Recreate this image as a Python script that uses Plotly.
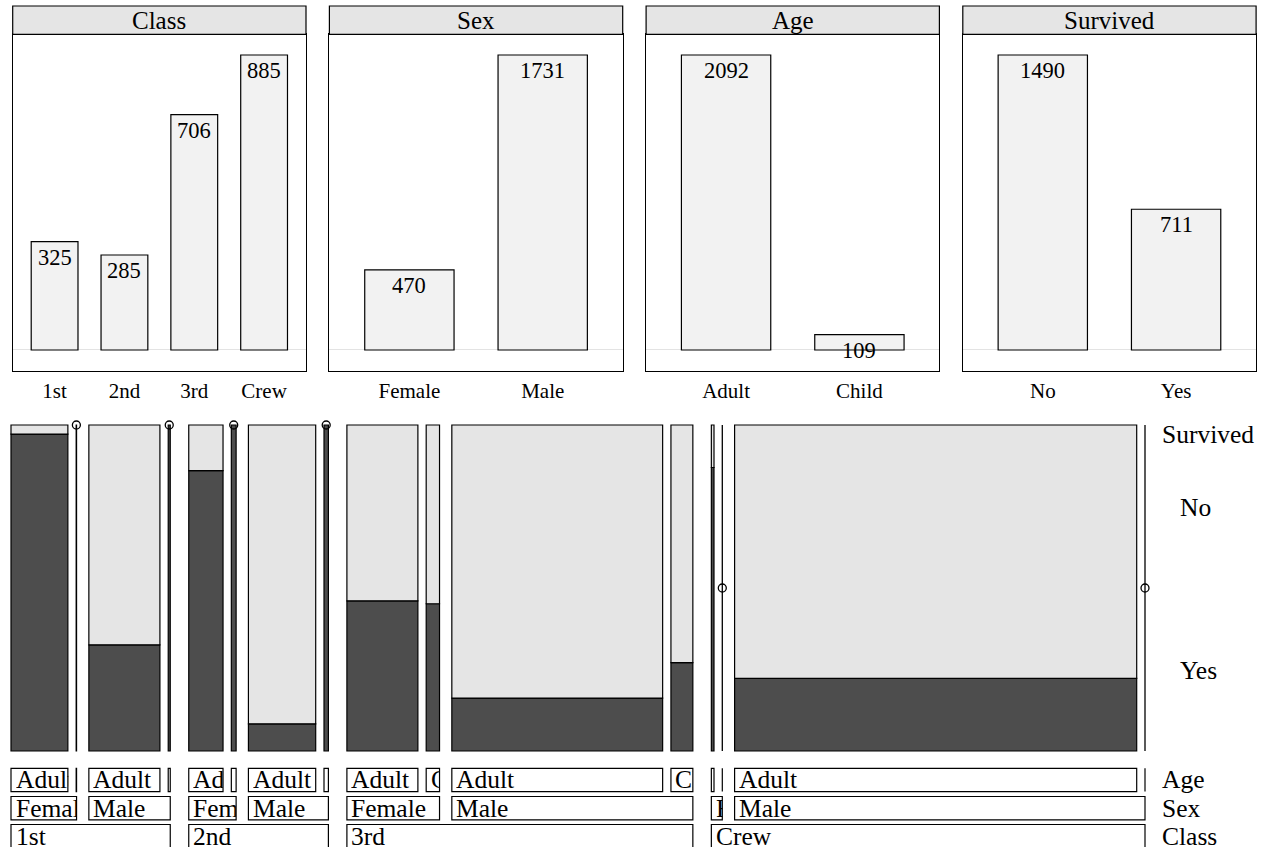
import plotly.graph_objects as go

W, H = 1270, 847

# ---------------- data ----------------
classes = ["1st", "2nd", "3rd", "Crew"]
sexes = ["Female", "Male"]
ages = ["Adult", "Child"]
survival = ["No", "Yes"]

class_totals = [325, 285, 706, 885]
sex_totals = [470, 1731]
age_totals = [2092, 109]
survived_totals = [1490, 711]

# counts per class, order: Female/Adult, Female/Child, Male/Adult, Male/Child
no_1st = [4, 0, 118, 0]
yes_1st = [140, 1, 57, 5]
no_2nd = [13, 0, 154, 0]
yes_2nd = [80, 13, 14, 11]
no_3rd = [89, 17, 387, 35]
yes_3rd = [76, 14, 75, 13]
no_crew = [3, 0, 670, 0]
yes_crew = [20, 0, 192, 0]

no_by_class = [no_1st, no_2nd, no_3rd, no_crew]
yes_by_class = [yes_1st, yes_2nd, yes_3rd, yes_crew]

# ---------------- style ----------------
TOP_FONT = "Liberation Serif"
BOT_FONT = "Liberation Serif"
DARK = "#4d4d4d"
LIGHT = "#e5e5e5"
BAR_FILL = "#f2f2f2"
LW = 1.2

fig = go.Figure()

def fx(px):
    return px / W

def fy(py):
    return 1 - py / H

# ---------------- top: marginal bar charts ----------------
P_X0, P_STEP, P_W = 12.7, 316.7, 293.3
P_TOP, P_BOT, HDR_TOP = 34.3, 370.7, 6.0
EXP = 0.0702

top_panels = [("Class", classes, class_totals),
              ("Sex", sexes, sex_totals),
              ("Age", ages, age_totals),
              ("Survived", survival, survived_totals)]

layout_axes = {}
for i, (title, cats, vals) in enumerate(top_panels):
    k = i + 1
    xr = "x" if k == 1 else f"x{k}"
    yr = "y" if k == 1 else f"y{k}"
    xs = list(range(len(cats)))
    fig.add_trace(go.Bar(x=xs, y=vals, width=0.67, xaxis=xr, yaxis=yr,
                         marker=dict(color=BAR_FILL, line=dict(color="black", width=LW)),
                         showlegend=False, hoverinfo="skip"))
    for xv, v in zip(xs, vals):
        fig.add_annotation(xref=xr, yref=yr, x=xv, y=v, yanchor="top", xanchor="center",
                           yshift=-1, text=str(v), showarrow=False,
                           font=dict(family=TOP_FONT, size=22.5, color="black"))
    x0 = P_X0 + P_STEP * i
    x1 = x0 + P_W
    vmax = max(vals)
    layout_axes[f"xaxis{'' if k == 1 else k}"] = dict(
        domain=[fx(x0), fx(x1)], anchor=yr, range=[-0.6, len(cats) - 0.4],
        tickvals=xs, ticktext=cats, showgrid=False, zeroline=False, ticks="",
        showline=True, mirror=True, linecolor="black", linewidth=LW,
        tickfont=dict(family=TOP_FONT, size=21, color="black"), ticklabelstandoff=1)
    layout_axes[f"yaxis{'' if k == 1 else k}"] = dict(
        domain=[fy(P_BOT), fy(P_TOP)], anchor=xr, range=[-EXP * vmax, (1 + EXP) * vmax],
        showticklabels=False, showgrid=False, ticks="", zeroline=True,
        zerolinecolor="#e3e3e3", zerolinewidth=1,
        showline=True, mirror=True, linecolor="black", linewidth=LW)
    fig.add_shape(type="rect", xref="paper", yref="paper",
                  x0=fx(x0), x1=fx(x1), y0=fy(P_TOP), y1=fy(HDR_TOP),
                  fillcolor=LIGHT, line=dict(color="black", width=LW))
    fig.add_annotation(xref="paper", yref="paper", x=fx((x0 + x1) / 2), y=fy((P_TOP + HDR_TOP) / 2),
                       text=title, showarrow=False, xanchor="center", yanchor="middle",
                       font=dict(family=TOP_FONT, size=25, color="black"))

# ---------------- bottom: double decker ----------------
MX0, MX1 = 11.0, 1145.0       # pixel extent of tiles
MY_TOP, MY_BOT = 425.0, 751.0
UNIT = MX1 - MX0
XPAD = 0.005
YPAD = 0.03
GAPS = [18.5 / UNIT, 12.3 / UNIT, 8.3 / UNIT]

def split(a, b, counts, gap):
    tot = sum(counts)
    avail = (b - a) - gap * (len(counts) - 1)
    out, x = [], a
    for n in counts:
        w = avail * n / tot if tot > 0 else 0.0
        out.append((x, x + w))
        x += w + gap
    return out

cells = []   # (ci, si, ai, x0, x1, no, yes)
class_spans, sex_spans = [], []
cls_counts = [sum(no_by_class[c]) + sum(yes_by_class[c]) for c in range(len(classes))]
for ci, (a, b) in enumerate(split(0.0, 1.0, cls_counts, GAPS[0])):
    class_spans.append((ci, a, b))
    nos, yess = no_by_class[ci], yes_by_class[ci]
    sx_counts = [sum(nos[s * 2 + j] + yess[s * 2 + j] for j in range(2)) for s in range(2)]
    for si, (sa, sb) in enumerate(split(a, b, sx_counts, GAPS[1])):
        sex_spans.append((ci, si, sa, sb))
        ag_counts = [nos[si * 2 + j] + yess[si * 2 + j] for j in range(2)]
        for ai, (aa, ab) in enumerate(split(sa, sb, ag_counts, GAPS[2])):
            cells.append((ci, si, ai, aa, ab, nos[si * 2 + ai], yess[si * 2 + ai]))

dx, dw, dy = [], [], []
lx, lw_, lb, ly = [], [], [], []
zero_x, zero_y = [], []
line_x, line_y = [], []
for (ci, si, ai, x0, x1, no, yes) in cells:
    tot = no + yes
    xc = (x0 + x1) / 2
    if tot == 0:
        line_x += [xc, xc, None]
        line_y += [0, 1, None]
        zero_x.append(xc)
        zero_y.append(0.5)
        continue
    p = yes / tot
    if yes > 0:
        dx.append(xc); dw.append(x1 - x0); dy.append(p)
    else:
        zero_x.append(xc); zero_y.append(0.0)
    if no > 0:
        lx.append(xc); lw_.append(x1 - x0); lb.append(p); ly.append(1 - p)
    else:
        zero_x.append(xc); zero_y.append(1.0)

fig.add_trace(go.Bar(x=dx, y=dy, width=dw, base=0, xaxis="x5", yaxis="y5",
                     marker=dict(color=DARK, line=dict(color="black", width=LW)),
                     showlegend=False, hoverinfo="skip"))
fig.add_trace(go.Bar(x=lx, y=ly, width=lw_, base=lb, xaxis="x5", yaxis="y5",
                     marker=dict(color=LIGHT, line=dict(color="black", width=LW)),
                     showlegend=False, hoverinfo="skip"))
fig.add_trace(go.Scatter(x=line_x, y=line_y, mode="lines", xaxis="x5", yaxis="y5",
                         line=dict(color="black", width=1.3), showlegend=False,
                         hoverinfo="skip", cliponaxis=False))
fig.add_trace(go.Scatter(x=zero_x, y=zero_y, mode="markers", xaxis="x5", yaxis="y5",
                         marker=dict(symbol="circle-open", size=8, color="black",
                                     line=dict(width=1.3, color="black")),
                         showlegend=False, hoverinfo="skip", cliponaxis=False))

dom_x0 = MX0 - XPAD * UNIT
dom_x1 = MX1 + XPAD * UNIT
ypx = MY_BOT - MY_TOP
layout_axes["xaxis5"] = dict(domain=[fx(dom_x0), fx(dom_x1)], anchor="y5",
                             range=[-XPAD, 1 + XPAD], visible=False)
layout_axes["yaxis5"] = dict(domain=[fy(MY_BOT + YPAD * ypx), fy(MY_TOP - YPAD * ypx)],
                             anchor="x5", range=[-YPAD, 1 + YPAD], visible=False)

# label rows
ROW_TOP = [768.3, 796.5, 824.5]
ROW_H = 23.3
TEXT_PAD = 4.5
LABEL_SIZE = 25.5

def box(x0, x1, row, text):
    t, b = ROW_TOP[row], ROW_TOP[row] + ROW_H
    fig.add_shape(type="rect", xref="x5", yref="paper", x0=x0, x1=x1,
                  y0=fy(b), y1=fy(t), line=dict(color="black", width=LW),
                  fillcolor="rgba(0,0,0,0)")
    wpx = (x1 - x0) * UNIT - TEXT_PAD
    if wpx >= 1:
        fig.add_annotation(xref="x5", yref="paper", x=x0, y=fy((t + b) / 2),
                           xanchor="left", yanchor="middle", xshift=TEXT_PAD,
                           text=text, showarrow=False, align="left", width=wpx,
                           borderpad=0, borderwidth=0,
                           font=dict(family=BOT_FONT, size=LABEL_SIZE, color="black"))

for (ci, si, ai, x0, x1, no, yes) in cells:
    box(x0, x1, 0, ages[ai])
for (ci, si, sa, sb) in sex_spans:
    box(sa, sb, 1, sexes[si])
for (ci, a, b) in class_spans:
    box(a, b, 2, classes[ci])

# right-hand labels
RX = 1160.0
for row, name in enumerate(["Age", "Sex", "Class"]):
    fig.add_annotation(xref="paper", yref="paper", x=fx(RX), y=fy(ROW_TOP[row] + ROW_H / 2),
                       xanchor="left", yanchor="middle", text=name, showarrow=False,
                       font=dict(family=BOT_FONT, size=LABEL_SIZE, color="black"))
fig.add_annotation(xref="paper", yref="y5", x=fx(RX), y=1, yshift=-9,
                   xanchor="left", yanchor="middle", text="Survived", showarrow=False,
                   font=dict(family=BOT_FONT, size=LABEL_SIZE, color="black"))
p_yes = survived_totals[1] / sum(survived_totals)
for lab, ymid in [("No", p_yes + (1 - p_yes) / 2), ("Yes", p_yes / 2)]:
    fig.add_annotation(xref="paper", yref="y5", x=fx(RX + 17.5), y=ymid, yshift=28,
                       xanchor="left", yanchor="middle", text=lab, showarrow=False,
                       font=dict(family=BOT_FONT, size=LABEL_SIZE, color="black"))

fig.update_layout(width=W, height=H, margin=dict(l=0, r=0, t=0, b=0),
                  paper_bgcolor="white", plot_bgcolor="white", barmode="overlay",
                  showlegend=False, **layout_axes)

fig.write_html("out.html", config={"displayModeBar": False},
               post_script="document.body.style.margin='0';document.body.style.overflow='hidden';")
